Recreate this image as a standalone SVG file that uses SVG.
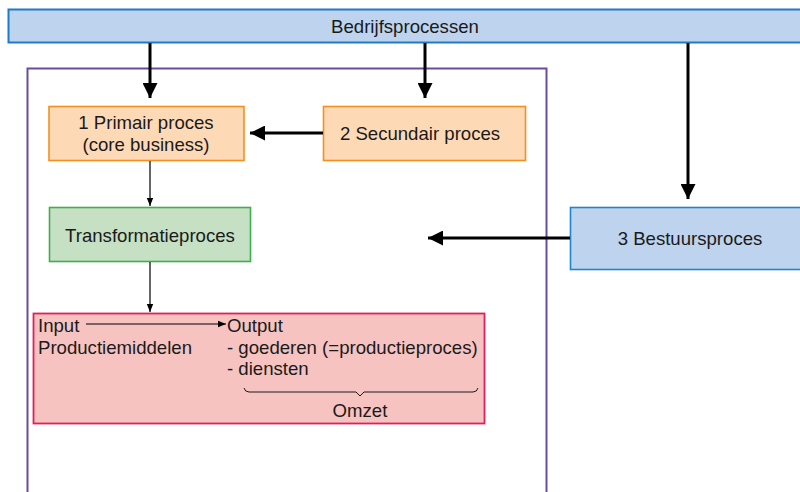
<svg xmlns="http://www.w3.org/2000/svg" width="800" height="492" viewBox="0 0 800 492">
<defs>
<style>
text{font-family:"Liberation Sans",Arial,sans-serif;font-size:18.6px;fill:#1a1a1a}
.c{text-anchor:middle}
.thick{stroke:#000;stroke-width:3;fill:none}
.thin{stroke:#000;stroke-width:1.2;fill:none}
</style>
<marker id="ah" viewBox="0 0 10 10" refX="10" refY="5" markerWidth="5" markerHeight="5" markerUnits="strokeWidth" orient="auto"><path d="M0,0L10,5L0,10z" fill="#000"/></marker>
<marker id="as" viewBox="0 0 10 10" refX="10" refY="5" markerWidth="7" markerHeight="7" markerUnits="strokeWidth" orient="auto"><path d="M0,1L10,5L0,9z" fill="#000"/></marker>
</defs>
<rect width="800" height="492" fill="#fff"/>
<g id="frame"><path d="M27.5,492V68.5H546.5V492" fill="none" stroke="#6b4c9a" stroke-width="2"/></g>
<g id="bedrijfsprocessen"><rect x="8.5" y="9.5" width="795" height="33" fill="#bdd3ee" stroke="#1e7cc6" stroke-width="2"/><text class="c" x="405" y="33">Bedrijfsprocessen</text></g>
<g id="primair"><rect x="49" y="106.5" width="195" height="54" fill="#fdd9b5" stroke="#f4901e" stroke-width="1.6"/><text class="c" x="146" y="129">1 Primair proces</text><text class="c" x="146" y="151">(core business)</text></g>
<g id="secundair"><rect x="323.5" y="106.5" width="202" height="54" fill="#fdd9b5" stroke="#f4901e" stroke-width="1.6"/><text class="c" x="420" y="140">2 Secundair proces</text></g>
<g id="transformatie"><rect x="49.5" y="207.5" width="201" height="54" fill="#c5e0c3" stroke="#3cb04b" stroke-width="1.6"/><text class="c" x="150" y="242">Transformatieproces</text></g>
<g id="bestuur"><rect x="570.5" y="207.5" width="235" height="62" fill="#bdd3ee" stroke="#1e86cc" stroke-width="1.6"/><text class="c" x="690" y="245">3 Bestuursproces</text></g>
<g id="inputoutput"><rect x="33.5" y="313.5" width="451" height="110" fill="#f6c3c1" stroke="#e0205c" stroke-width="1.8"/>
<text x="38" y="332">Input</text><text x="38" y="354">Productiemiddelen</text>
<text x="227" y="332">Output</text><text x="227" y="354">- goederen (=productieproces)</text><text x="227" y="375">- diensten</text>
<path d="M244,388Q245,392 249,392H356L360,396L364,392H473Q477,392 478,388" fill="none" stroke="#1a1a1a" stroke-width="1"/>
<text class="c" x="360" y="417">Omzet</text>
<path d="M86,324H226" class="thin" marker-end="url(#as)"/></g>
<g id="connectors">
<path d="M150,43V98" class="thick" marker-end="url(#ah)"/>
<path d="M425,43V98" class="thick" marker-end="url(#ah)"/>
<path d="M688,43V199" class="thick" marker-end="url(#ah)"/>
<path d="M323,133H250" class="thick" marker-end="url(#ah)"/>
<path d="M570,238H428" class="thick" marker-end="url(#ah)"/>
<path d="M150,161V206" class="thin" marker-end="url(#as)"/>
<path d="M150,262V312" class="thin" marker-end="url(#as)"/>
</g>
</svg>
